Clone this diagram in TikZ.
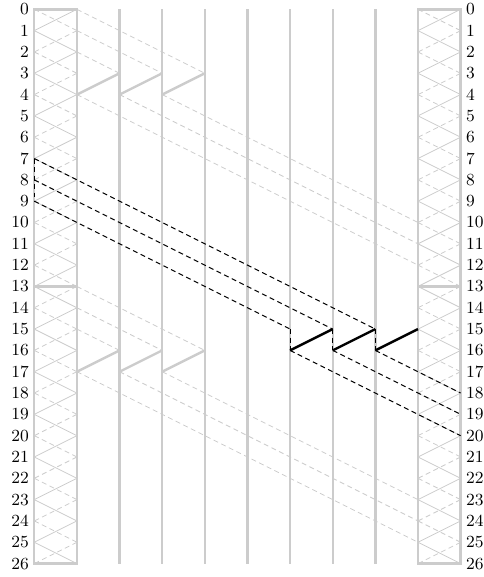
\documentclass[tikz,border=0pt]{standalone}
\begin{document}
\begin{tikzpicture}[
    x=0.75cm, y=-0.375cm,
    lane/.style={line width=1.2pt, black!20},
    wire/.style={line width=0.4pt, black!20},
    ghost/.style={wire, dash pattern=on 2.5pt off 1.75pt},
    hop/.style={line width=1.2pt, black!20},
    msg/.style={line width=0.5pt, black, dash pattern=on 2.5pt off 1.75pt},
    pass/.style={line width=1.2pt, black},
    tick/.style={inner sep=2.5pt, font=\fontsize{8.5}{10}\selectfont}
  ]
    \useasboundingbox (-0.804,-0.437) rectangle (10.53,26.63);
    \foreach \c in {0,...,10}
      \foreach \r in {0,...,26}
        \coordinate (g\c-\r) at (\c,\r);
    \foreach \r in {0,...,26} {
      \node[tick, anchor=east] (l\r) at (g0-\r) {\r};
      \node[tick, anchor=west] (r\r) at (g10-\r) {\r};
    }
    \foreach \c in {2,...,8}
      \draw[lane] (g\c-0) -- (g\c-26);
    \foreach \a/\b in {0/1, 9/10} {
      \foreach \r [evaluate=\r as \s using int(\r+1)] in {0,...,25} {
        \ifodd\r\relax
          \draw[wire] (g\a-\r) -- (g\b-\s);
          \draw[ghost] (g\b-\r) -- (g\a-\s);
        \else
          \draw[ghost] (g\a-\r) -- (g\b-\s);
          \draw[wire] (g\b-\r) -- (g\a-\s);
        \fi
      }
      \draw[lane] (g\a-0) rectangle (g\b-26);
      \draw[lane] (g\a-13) -- (g\b-13);
    }
    \foreach \o in {0,13} {
      \foreach \i [evaluate=\i as \j using int(\i+1),
                   evaluate=\i as \k using int(5-\i),
                   evaluate=\i as \p using int(\o+\i-1),
                   evaluate=\i as \q using int(\o+3),
                   evaluate=\i as \u using int(\o+4),
                   evaluate=\i as \v using int(\o+13-\i)] in {1,2,3} {
        \draw[ghost] (g1-\p) -- (g\k-\q);
        \draw[hop] (g\i-\u) -- (g\j-\q);
        \draw[ghost] (g\i-\u) -- (g9-\v);
      }
    }
    \draw[msg] (g0-7) -- (g0-9);
    \draw[msg] (g0-7) -- (g8-15);
    \draw[msg] (g0-8) -- (g7-15);
    \draw[msg] (g0-9) -- (g6-15);
    \foreach \c [evaluate=\c as \d using int(\c+1),
                 evaluate=\c as \e using int(26-\c)] in {6,7,8} {
      \draw[msg] (g\c-15) -- (g\c-16);
      \draw[pass] (g\c-16) -- (g\d-15);
      \draw[msg] (g\c-16) -- (g10-\e);
    }
  \end{tikzpicture}
\end{document}
